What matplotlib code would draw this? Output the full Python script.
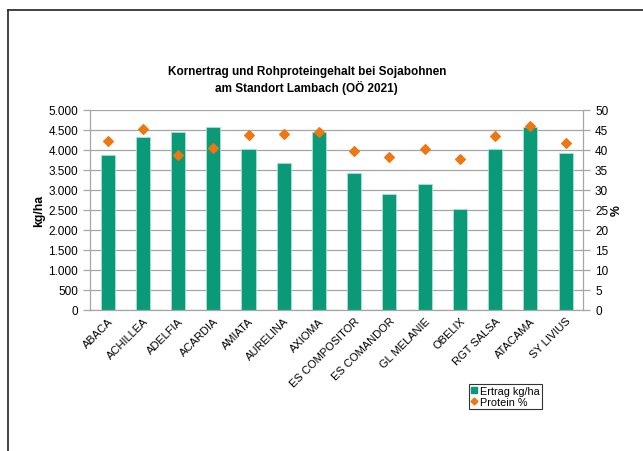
import numpy as np
import matplotlib.pyplot as plt
from matplotlib.lines import Line2D
from matplotlib.ticker import FuncFormatter

plt.rcParams['font.family'] = ['Liberation Sans', 'DejaVu Sans']

sorten = ['ABACA', 'ACHILLEA', 'ADELFIA', 'ACARDIA', 'AMIATA', 'AURELINA',
          'AXIOMA', 'ES COMPOSITOR', 'ES COMANDOR', 'GL MELANIE', 'OBELIX',
          'RGT SALSA', 'ATACAMA', 'SY LIVIUS']
ertrag = [3870, 4310, 4435, 4565, 4010, 3675, 4435, 3410, 2895, 3150,
          2520, 4010, 4565, 3910]
protein = [42.1, 45.1, 38.8, 40.4, 43.7, 44.0, 44.4, 39.8, 38.1, 40.1,
           37.8, 43.4, 46.0, 41.8]

green = '#0a9a78'
orange = '#ee7710'
grid = '#a6a6a6'

fig = plt.figure(figsize=(6.43, 4.52), dpi=100)
ax = fig.add_axes([0.140, 0.312, 0.767, 0.443])
x = np.arange(len(sorten))

ax.bar(x, ertrag, width=0.4, color=green, edgecolor='#a8e3d2', linewidth=0.6, zorder=2)
ax.set_xlim(-0.5, len(sorten) - 0.5)
ax.set_ylim(0, 5000)
ax.set_yticks(np.arange(0, 5001, 500))
ax.yaxis.set_major_formatter(FuncFormatter(lambda v, p: f'{int(v):,}'.replace(',', '.')))
ax.grid(axis='y', color=grid, linewidth=0.9, zorder=0)
ax.set_xticks(x)
ax.set_xticklabels(sorten, rotation=45, ha='right', rotation_mode='anchor', fontsize=8)
ax.tick_params(axis='x', length=0, pad=4)
ax.tick_params(axis='y', labelsize=8.5, color=grid, length=5, width=0.9)
for s in ['top', 'right']:
    ax.spines[s].set_visible(False)
for s in ['left', 'bottom']:
    ax.spines[s].set_color(grid)
    ax.spines[s].set_linewidth(0.9)
ax.set_ylabel('kg/ha', fontsize=8.8, fontweight='bold', va='center')
ax.yaxis.set_label_coords(-0.104, 0.5)

ax2 = ax.twinx()
ax2.scatter(x, protein, marker='D', s=24, color=orange, zorder=3)
ax2.set_ylim(0, 50)
ax2.set_yticks(np.arange(0, 51, 5))
ax2.tick_params(axis='y', labelsize=8.5, color=grid, length=5, width=0.9)
for s in ['top', 'left', 'bottom']:
    ax2.spines[s].set_visible(False)
ax2.spines['right'].set_color(grid)
ax2.spines['right'].set_linewidth(0.9)
ax2.set_ylabel('%', fontsize=8.8, fontweight='bold', va='center')
ax2.yaxis.set_label_coords(1.068, 0.5)

fig.text(0.477, 0.822, 'Kornertrag und Rohproteingehalt bei Sojabohnen\nam Standort Lambach (OÖ 2021)',
         ha='center', va='center', fontsize=8.5, fontweight='bold', linespacing=1.35)

handles = [Line2D([], [], marker='s', color=green, linestyle='', markersize=4),
           Line2D([], [], marker='D', color=orange, linestyle='', markersize=3.5)]
leg = fig.legend(handles, ['Ertrag kg/ha', 'Protein %'], loc='upper left',
                 bbox_to_anchor=(469 / 643, 1 - 385 / 452), fontsize=7.8,
                 frameon=True, fancybox=False, handlelength=0.6, handletextpad=0.2,
                 borderpad=0.2, labelspacing=0.1, borderaxespad=0)
leg.get_frame().set_edgecolor('black')
leg.get_frame().set_linewidth(0.8)

# outer chart frame, cut off at right and bottom
fig.add_artist(Line2D([8 / 643, 8 / 643], [0, 1 - 11 / 452], color='#333333', linewidth=1.3))
fig.add_artist(Line2D([8 / 643, 1], [1 - 11 / 452, 1 - 11 / 452], color='#333333', linewidth=1.3))

fig.savefig('out.png', dpi=100)
